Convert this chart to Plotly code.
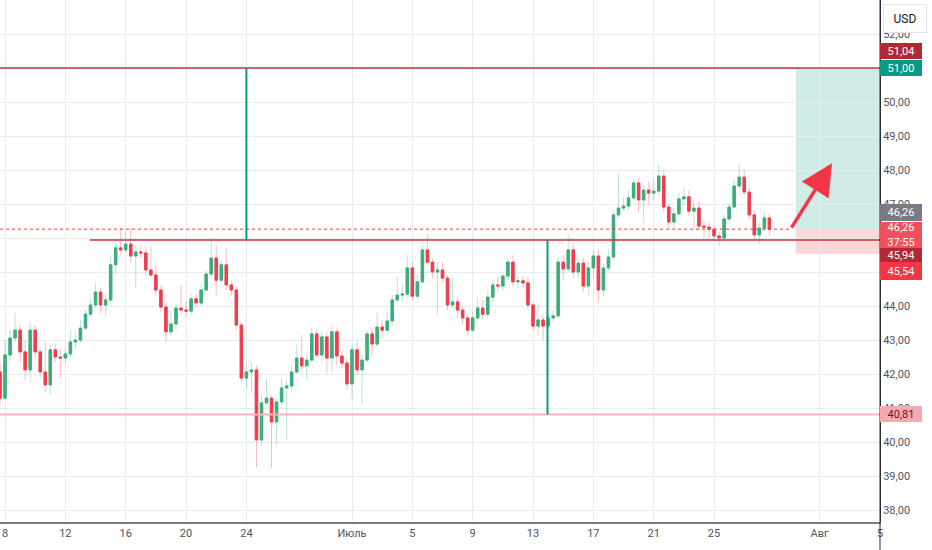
import plotly.graph_objects as go
import pandas as pd

# 8-hour candles, first one opens 2022-06-07 16:00
start = "2022-06-07 16:00"
opens = [42.06, 41.29, 42.56, 43.06, 43.29, 42.65, 42.12, 43.29, 42.65, 42.06,
         41.68, 42.71, 42.50, 42.47, 42.59, 42.94, 43.00, 43.35, 43.76, 44.03,
         44.41, 44.03, 44.18, 45.21, 45.71, 45.65, 45.82, 45.47, 45.59, 45.56,
         45.06, 44.91, 44.47, 43.97, 43.24, 43.47, 43.94, 43.88, 43.85, 44.21,
         44.09, 44.47, 44.94, 45.41, 44.76, 45.21, 44.62, 44.47, 43.44, 41.88,
         42.06, 42.12, 40.06, 41.15, 41.29, 40.59, 41.18, 41.59, 41.65, 42.06,
         42.47, 42.24, 42.41, 43.18, 42.56, 43.09, 42.47, 43.24, 42.53, 42.32,
         41.71, 42.71, 42.12, 42.41, 43.18, 42.88, 43.38, 43.29, 43.56, 44.18,
         44.32, 44.35, 45.12, 44.29, 44.71, 45.65, 45.29, 45.00, 45.06, 44.82,
         44.03, 44.12, 43.88, 43.65, 43.29, 43.65, 43.94, 43.76, 44.26, 44.62,
         44.59, 44.88, 45.29, 44.71, 44.74, 44.68, 44.03, 43.41, 43.59, 43.41,
         43.65, 43.71, 45.29, 45.09, 45.65, 45.00, 45.26, 44.59, 45.12, 45.47,
         44.47, 45.12, 45.44, 46.68, 46.88, 46.94, 47.18, 47.62, 47.12, 47.41,
         47.32, 47.38, 47.82, 46.91, 46.47, 46.71, 47.15, 47.21, 46.79, 46.88,
         46.35, 46.32, 46.26, 46.06, 46.00, 46.56, 46.91, 47.53, 47.79, 47.35,
         46.68, 46.09, 46.29, 46.59]
highs = [42.35, 43.00, 43.29, 43.79, 43.44, 43.00, 43.53, 43.44, 42.76, 42.94,
         42.85, 42.91, 42.71, 42.76, 43.29, 43.21, 43.59, 43.88, 44.18, 44.68,
         44.53, 44.35, 45.50, 45.94, 46.32, 46.18, 46.32, 45.79, 45.79, 45.74,
         45.76, 45.21, 44.62, 44.12, 43.88, 44.06, 44.62, 44.12, 44.35, 44.35,
         44.62, 45.06, 46.00, 45.79, 45.35, 45.71, 44.76, 44.59, 43.53, 42.24,
         42.35, 42.24, 41.38, 41.88, 41.38, 41.29, 41.88, 41.82, 42.26, 42.85,
         43.15, 42.56, 43.35, 43.29, 43.29, 43.24, 43.44, 43.38, 42.71, 42.47,
         42.85, 42.94, 42.56, 43.29, 43.35, 43.79, 43.59, 43.79, 44.32, 44.88,
         44.62, 45.50, 45.29, 44.91, 45.79, 46.09, 45.41, 45.29, 45.29, 44.91,
         44.82, 44.26, 44.00, 43.76, 43.82, 44.24, 44.18, 44.47, 44.76, 44.88,
         44.97, 45.41, 45.50, 44.88, 44.88, 44.85, 44.12, 44.06, 43.74, 43.79,
         43.88, 45.44, 45.50, 46.09, 45.82, 45.41, 45.41, 45.29, 45.65, 45.65,
         45.26, 45.65, 46.82, 47.88, 47.21, 47.41, 47.76, 47.76, 47.56, 47.65,
         47.71, 48.15, 48.00, 47.00, 46.88, 47.35, 47.50, 47.41, 47.12, 47.06,
         46.53, 46.47, 46.38, 46.18, 46.68, 47.03, 47.71, 48.21, 48.00, 47.47,
         46.82, 46.47, 46.76, 46.71]
lows = [41.09, 41.24, 42.41, 42.94, 42.35, 41.82, 41.76, 42.47, 41.88, 41.47,
        41.38, 42.35, 41.88, 42.32, 42.50, 42.71, 42.91, 43.29, 43.65, 43.94,
        43.79, 43.71, 44.12, 44.91, 45.50, 45.56, 45.29, 44.53, 45.41, 44.91,
        44.82, 44.29, 43.82, 42.94, 43.15, 43.29, 43.79, 43.71, 43.74, 43.94,
        44.00, 44.41, 44.88, 44.32, 44.71, 44.47, 44.29, 43.29, 41.76, 41.59,
        41.44, 39.26, 39.91, 41.09, 39.24, 39.91, 41.09, 40.06, 41.53, 42.00,
        42.12, 41.82, 42.35, 42.47, 42.35, 42.03, 42.06, 42.26, 42.18, 41.53,
        41.29, 41.97, 41.09, 42.35, 42.56, 42.82, 43.06, 43.15, 43.44, 44.12,
        44.12, 44.26, 44.18, 44.18, 44.65, 45.21, 44.82, 43.74, 44.71, 43.88,
        43.94, 43.65, 43.47, 43.12, 43.24, 43.56, 43.59, 43.65, 44.12, 44.41,
        44.47, 44.76, 44.59, 44.53, 44.53, 43.88, 43.29, 43.15, 43.00, 43.35,
        43.53, 43.65, 44.76, 45.00, 44.82, 44.82, 44.41, 44.32, 44.82, 44.09,
        44.29, 45.06, 45.35, 46.59, 46.76, 46.82, 47.12, 46.76, 46.44, 46.97,
        47.12, 47.26, 46.76, 46.29, 46.29, 46.65, 46.97, 46.65, 46.29, 46.24,
        46.00, 46.00, 45.94, 45.76, 45.91, 46.47, 46.85, 47.47, 47.26, 46.53,
        45.94, 45.82, 46.21, 46.06]
closes = [41.29, 42.56, 43.06, 43.29, 42.65, 42.12, 43.29, 42.65, 42.06, 41.68,
          42.71, 42.50, 42.47, 42.59, 42.94, 43.00, 43.35, 43.76, 44.03, 44.41,
          44.03, 44.18, 45.21, 45.71, 45.65, 45.82, 45.47, 45.59, 45.56, 45.06,
          44.91, 44.47, 43.97, 43.24, 43.47, 43.94, 43.88, 43.85, 44.21, 44.09,
          44.47, 44.94, 45.41, 44.76, 45.21, 44.62, 44.47, 43.44, 41.88, 42.06,
          42.12, 40.06, 41.15, 41.29, 40.59, 41.18, 41.59, 41.65, 42.06, 42.47,
          42.24, 42.41, 43.18, 42.56, 43.09, 42.47, 43.24, 42.53, 42.32, 41.71,
          42.71, 42.12, 42.41, 43.18, 42.88, 43.38, 43.29, 43.56, 44.18, 44.32,
          44.35, 45.12, 44.29, 44.71, 45.65, 45.29, 45.00, 45.06, 44.82, 44.03,
          44.12, 43.88, 43.65, 43.29, 43.65, 43.94, 43.76, 44.26, 44.62, 44.59,
          44.88, 45.29, 44.71, 44.74, 44.68, 44.03, 43.41, 43.59, 43.41, 43.65,
          43.71, 45.29, 45.09, 45.65, 45.00, 45.26, 44.59, 45.12, 45.47, 44.47,
          45.12, 45.44, 46.68, 46.88, 46.94, 47.18, 47.62, 47.12, 47.41, 47.32,
          47.38, 47.82, 46.91, 46.47, 46.71, 47.15, 47.21, 46.79, 46.88, 46.35,
          46.32, 46.26, 46.06, 46.00, 46.56, 46.91, 47.53, 47.79, 47.35, 46.68,
          46.09, 46.29, 46.59, 46.26]

dates = pd.date_range(start, periods=len(closes), freq="8h")

tick_dates = ["2022-06-08", "2022-06-12", "2022-06-16", "2022-06-20", "2022-06-24",
              "2022-07-01", "2022-07-05", "2022-07-09", "2022-07-13", "2022-07-17",
              "2022-07-21", "2022-07-25", "2022-08-01", "2022-08-05"]
tick_text = ["8", "12", "16", "20", "24", "Июль", "5", "9", "13", "17", "21", "25", "Авг", "5"]

target_price = 51.00
support_price = 45.94
low_price = 40.81
last_price = 46.26
stop_price = 45.54

UP = "#3dae7b"
DOWN = "#ef3e4e"
TEAL = "#089981"
DARKRED = "#b22833"

fig = go.Figure()

# wicks (lighter)
fig.add_trace(go.Candlestick(
    x=dates, open=opens, high=highs, low=lows, close=closes,
    increasing=dict(line=dict(color="rgba(61,174,123,0.35)", width=1), fillcolor="rgba(61,174,123,0.35)"),
    decreasing=dict(line=dict(color="rgba(239,62,78,0.35)", width=1), fillcolor="rgba(239,62,78,0.35)"),
    whiskerwidth=0, showlegend=False, hoverinfo="skip"))
# bodies
body_hi = [max(o, c) for o, c in zip(opens, closes)]
body_lo = [min(o, c) for o, c in zip(opens, closes)]
fig.add_trace(go.Candlestick(
    x=dates, open=opens, high=body_hi, low=body_lo, close=closes,
    increasing=dict(line=dict(color=UP, width=1), fillcolor=UP),
    decreasing=dict(line=dict(color=DOWN, width=1), fillcolor=DOWN),
    whiskerwidth=0, showlegend=False))

x_start = "2022-06-07 16:00"
x_end = "2022-08-05 00:00"
box_start = "2022-07-30 10:00"

# target / stop zone
fig.add_shape(type="rect", x0=box_start, x1=x_end, y0=last_price, y1=target_price,
              fillcolor="rgba(8,153,129,0.2)", line_width=0, layer="below")
fig.add_shape(type="rect", x0=box_start, x1=x_end, y0=stop_price, y1=last_price,
              fillcolor="rgba(242,54,69,0.2)", line_width=0, layer="below")

# levels
fig.add_shape(type="line", x0=x_start, x1=x_end, y0=target_price, y1=target_price,
              line=dict(color="#c8303d", width=1.5))
fig.add_shape(type="line", x0="2022-06-13 15:00", x1=x_end, y0=support_price, y1=support_price,
              line=dict(color="#c8303d", width=1.5))
fig.add_shape(type="line", x0=x_start, x1=x_end, y0=low_price, y1=low_price,
              line=dict(color="#f7b4ba", width=2))
fig.add_shape(type="line", x0=x_start, x1="2022-07-30 00:30", y0=last_price, y1=last_price,
              line=dict(color="#f23645", width=1, dash="dot"))

# vertical measurement lines
fig.add_shape(type="line", x0="2022-06-24 00:00", x1="2022-06-24 00:00", y0=support_price, y1=target_price,
              line=dict(color=TEAL, width=2))
fig.add_shape(type="line", x0="2022-07-13 23:00", x1="2022-07-13 23:00", y0=low_price, y1=support_price,
              line=dict(color=TEAL, width=2))

# separator under the price scale
fig.add_shape(type="line", xref="paper", yref="paper", x0=1, x1=1, y0=-0.06, y1=1,
              line=dict(color="#2a2e39", width=1))

# arrow
fig.add_annotation(x="2022-08-01 19:40", y=48.20, ax="2022-07-30 01:40", ay=46.26,
                   xref="x", yref="y", axref="x", ayref="y", text="",
                   showarrow=True, arrowhead=2, arrowsize=1.8, arrowwidth=3.5, arrowcolor="#f23645")

# price-scale labels: text, centre, box colour, text colour, box height
labels = [
    ("51,04", 51.49, DARKRED, "white", 16),
    ("51,00", 51.00, TEAL, "white", 16),
    ("46,26", 46.74, "#787b86", "white", 17),
    ("46,26<br>37:55", 46.09, "#f0505c", "white", 26),
    ("45,94", 45.50, DARKRED, "white", 14),
    ("45,54", 45.03, "#f23645", "white", 18),
    ("40,81", 40.82, "#f7a9ae", "#5a1d22", 16),
]
for txt, yv, bg, fc, h in labels:
    fig.add_annotation(x=1, xref="paper", xanchor="left", y=yv, yref="y", yanchor="middle",
                       text=txt, showarrow=False, bgcolor=bg, width=42, height=h,
                       borderpad=0, borderwidth=0,
                       font=dict(family="Roboto", size=11, color=fc), align="center")

fig.add_annotation(x=1.0284, xref="paper", xanchor="center", y=0.9655, yref="paper", yanchor="middle",
                   text="USD", showarrow=False,
                   bgcolor="white", bordercolor="#e0e3eb", borderwidth=1, borderpad=2,
                   width=38, height=23,
                   font=dict(family="Roboto", size=12, color="#131722"))

fig.update_layout(
    width=932, height=550,
    margin=dict(l=0, r=52, t=0, b=28),
    plot_bgcolor="white", paper_bgcolor="white",
    separators=", ",
    showlegend=False,
    font=dict(family="Roboto", size=11, color="#50535e"),
    xaxis=dict(range=[x_start, x_end], rangeslider=dict(visible=False),
               tickvals=tick_dates, ticktext=tick_text, showgrid=True, gridcolor="#e6ecf2",
               showline=True, linecolor="#787b86", linewidth=2, ticks="", zeroline=False,
               tickfont=dict(size=11, color="#50535e")),
    yaxis=dict(range=[37.647, 53.0], side="right", dtick=1, tickformat=".2f",
               showgrid=True, gridcolor="#e6ecf2", showline=True, linecolor="#2a2e39",
               linewidth=1, ticks="", zeroline=False, tickfont=dict(size=11, color="#50535e")),
)

fig.write_html("out.html", config={"displayModeBar": False},
               post_script="document.body.style.margin='0';")
